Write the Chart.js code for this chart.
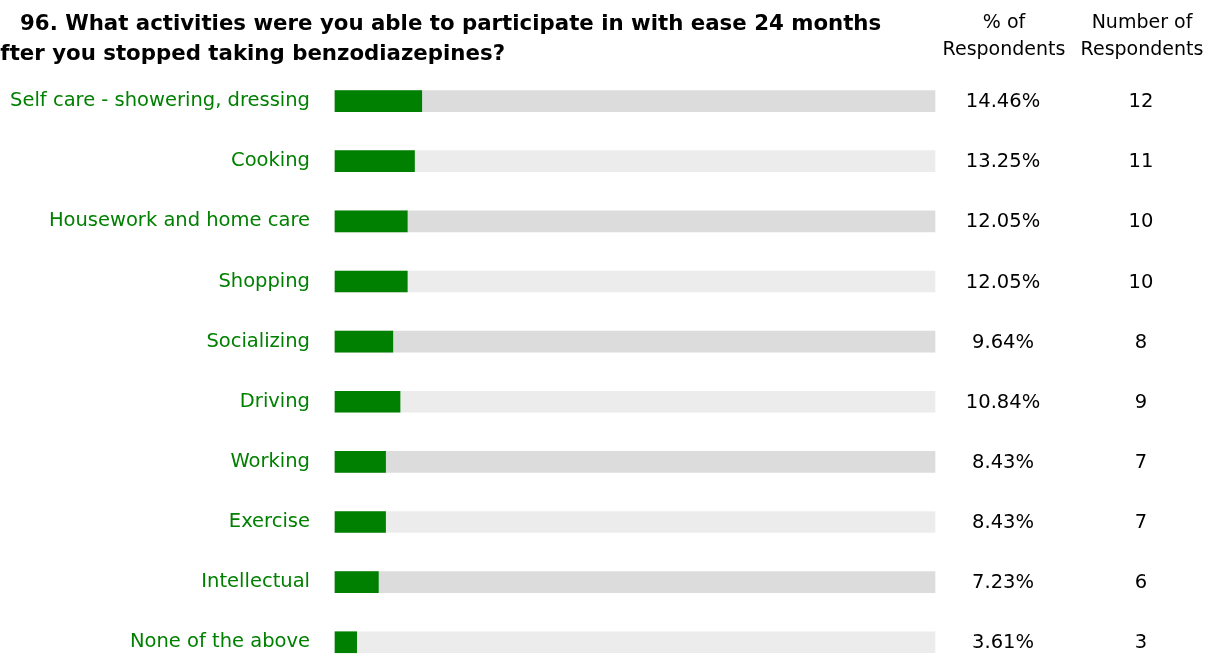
<!DOCTYPE html>
<html>
<head>
<meta charset="utf-8">
<script src="https://cdn.jsdelivr.net/npm/chart.js@4.4.1/dist/chart.umd.min.js"></script>
<style>
  html, body { margin: 0; padding: 0; background: #fff; overflow: hidden; }
  #wrap { width: 1216px; height: 659px; position: relative; overflow: hidden; }
</style>
</head>
<body>
<div id="wrap"><canvas id="chart" width="1216" height="709"></canvas></div>
<script>
// --- data ---
const categories = [
  'Self care - showering, dressing', 'Cooking', 'Housework and home care', 'Shopping',
  'Socializing', 'Driving', 'Working', 'Exercise', 'Intellectual', 'None of the above'
];
const percentValues = [14.46, 13.25, 12.05, 12.05, 9.64, 10.84, 8.43, 8.43, 7.23, 3.61];
const respondentCounts = [12, 11, 10, 10, 8, 9, 7, 7, 6, 3];
const titleLines = [
  '96. What activities were you able to participate in with ease 24 months',
  'after you stopped taking benzodiazepines?'
];
const pctHeader = ['% of', 'Respondents'];
const countHeader = ['Number of', 'Respondents'];
const scaleMax = 100;

const FONT = '"DejaVu Sans", Verdana, sans-serif';
const GREEN = '#008000';
const trackColors = categories.map((c, i) => i % 2 === 0 ? '#dcdcdc' : '#ececec');

// title, column headers and the two value columns on the right
const sideText = {
  id: 'sideText',
  afterDraw(chart) {
    const ctx = chart.ctx;
    const y = chart.scales.y;
    ctx.save();
    ctx.fillStyle = '#000';
    ctx.textBaseline = 'alphabetic';
    ctx.font = 'bold 21.3px ' + FONT;
    ctx.textAlign = 'left';
    ctx.fillText(titleLines[0], 20, 30);
    ctx.fillText(titleLines[1], -14, 60);

    ctx.font = '19px ' + FONT;
    ctx.textAlign = 'center';
    ctx.fillText(pctHeader[0], 1004, 28);
    ctx.fillText(pctHeader[1], 1004, 55);
    ctx.fillText(countHeader[0], 1142, 28);
    ctx.fillText(countHeader[1], 1142, 55);

    ctx.font = '19.5px ' + FONT;
    ctx.textBaseline = 'middle';
    categories.forEach((c, i) => {
      const py = y.getPixelForValue(i);
      ctx.fillText(percentValues[i].toFixed(2) + '%', 1003, py + 1);
      ctx.fillText(String(respondentCounts[i]), 1141, py + 1);
    });
    ctx.restore();
  }
};

new Chart(document.getElementById('chart'), {
  type: 'bar',
  data: {
    labels: categories,
    datasets: [
      {
        data: percentValues,
        backgroundColor: GREEN,
        barThickness: 21,
        grouped: false,
        clip: false,
        order: 0
      },
      {
        data: categories.map(() => scaleMax),
        backgroundColor: trackColors,
        barThickness: 21,
        grouped: false,
        clip: false,
        order: 1
      }
    ]
  },
  options: {
    indexAxis: 'y',
    responsive: false,
    animation: false,
    layout: { padding: { top: 71, bottom: 8, right: 281, left: 0 } },
    plugins: { legend: { display: false }, tooltip: { enabled: false } },
    scales: {
      x: {
        display: false,
        min: 0,
        max: scaleMax
      },
      y: {
        offset: true,
        grid: { display: false, drawTicks: false },
        border: { display: false },
        afterFit: (scale) => { scale.width = 335; },
        ticks: {
          color: GREEN,
          padding: 25,
          font: { family: FONT, size: 19.5 }
        }
      }
    }
  },
  plugins: [sideText]
});
</script>
</body>
</html>
